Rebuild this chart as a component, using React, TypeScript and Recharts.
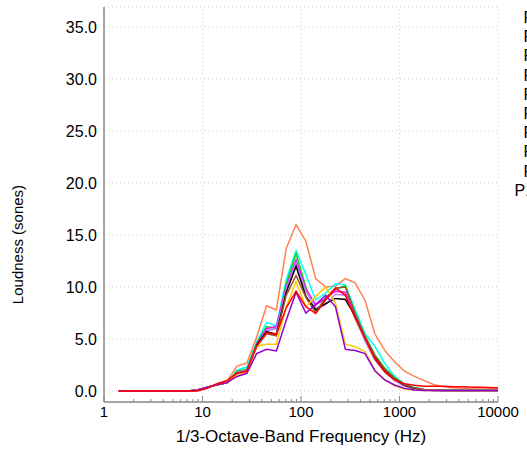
import React from "react";
import {
  LineChart,
  Line,
  XAxis,
  YAxis,
  CartesianGrid,
  ReferenceLine,
  Legend,
} from "recharts";

// 1/3-octave band (lower edge) frequencies, Hz
const freqs = [
  1.41, 1.78, 2.24, 2.82, 3.55, 4.47, 5.62, 7.08, 8.91, 11.2, 14.1, 17.8, 22.4,
  28.2, 35.5, 44.7, 56.2, 70.8, 89.1, 112, 141, 178, 224, 282, 355, 447, 562,
  708, 891, 1122, 1413, 1778, 2239, 2818, 3548, 4467, 5623, 7079, 8913, 11220,
];

const p1 = [
  0, 0, 0, 0, 0, 0, 0, 0, 0.1, 0.35, 0.7, 1.0, 2.4, 2.7, 5.2, 8.2, 7.8, 13.7,
  16.0, 14.4, 10.8, 10.0, 10.1, 10.8, 10.4, 8.7, 5.5, 3.9, 2.8, 1.9, 1.4, 1.0,
  0.6, 0.4, 0.3, 0.25, 0.2, 0.2, 0.2, 0.2,
];
const p2 = [
  0, 0, 0, 0, 0, 0, 0, 0, 0.1, 0.35, 0.65, 0.8, 2.0, 2.3, 4.7, 6.6, 6.25, 10.7,
  13.5, 11.2, 8.75, 9.4, 10.3, 10.2, 7.8, 5.5, 4.3, 2.65, 1.4, 0.67, 0.35, 0.15,
  0.1, 0.1, 0.1, 0.1, 0.1, 0.1, 0.1, 0.1,
];
const p3 = [
  0, 0, 0, 0, 0, 0, 0, 0, 0.1, 0.35, 0.6, 0.8, 1.9, 2.1, 4.6, 6.2, 6.0, 10.3,
  13.2, 10.0, 7.6, 9.0, 9.8, 10.1, 7.5, 5.3, 3.5, 2.2, 1.3, 0.65, 0.3, 0.15,
  0.1, 0.05, 0.05, 0.05, 0.05, 0.05, 0.05, 0.05,
];
const p4 = [
  0, 0, 0, 0, 0, 0, 0, 0, 0.1, 0.35, 0.6, 0.8, 1.8, 2.0, 4.5, 6.0, 6.2, 10.0,
  12.6, 9.8, 8.3, 8.9, 9.6, 9.5, 7.3, 5.1, 3.3, 2.0, 1.15, 0.55, 0.25, 0.12,
  0.1, 0.05, 0.05, 0.05, 0.05, 0.05, 0.05, 0.05,
];
const p5 = [
  0, 0, 0, 0, 0, 0, 0, 0, 0.1, 0.35, 0.6, 0.8, 1.8, 2.0, 4.4, 5.8, 6.0, 9.8,
  12.3, 9.6, 8.0, 8.3, 9.3, 9.2, 7.0, 4.8, 3.0, 1.8, 1.0, 0.45, 0.2, 0.1, 0.05,
  0.05, 0.05, 0.05, 0.05, 0.05, 0.05, 0.05,
];
const p6 = [
  0, 0, 0, 0, 0, 0, 0, 0, 0.1, 0.35, 0.6, 0.8, 1.7, 1.9, 4.4, 5.7, 5.45, 9.5,
  12.0, 9.1, 7.8, 8.4, 8.9, 8.8, 7.2, 5.1, 3.3, 2.0, 1.15, 0.55, 0.25, 0.1,
  0.05, 0.05, 0.05, 0.05, 0.05, 0.05, 0.05, 0.05,
];
const p7 = [
  0, 0, 0, 0, 0, 0, 0, 0, 0.1, 0.35, 0.6, 0.8, 1.7, 1.9, 4.3, 5.5, 5.3, 9.2,
  11.1, 9.0, 7.5, 8.9, 9.9, 10.0, 7.4, 5.2, 3.4, 2.1, 1.2, 0.6, 0.3, 0.15, 0.1,
  0.05, 0.05, 0.05, 0.05, 0.05, 0.05, 0.05,
];
const p8 = [
  0, 0, 0, 0, 0, 0, 0, 0, 0.1, 0.35, 0.6, 0.8, 1.6, 1.8, 4.3, 4.5, 4.5, 8.1,
  10.5, 8.1, 9.1, 10.0, 8.4, 4.5, 4.26, 3.8, 2.0, 1.1, 0.5, 0.2, 0.1, 0.05,
  0.05, 0.05, 0.05, 0.05, 0.05, 0.05, 0.05, 0.05,
];
const p9 = [
  0, 0, 0, 0, 0, 0, 0, 0, 0.1, 0.35, 0.6, 0.8, 1.4, 1.7, 3.6, 4.0, 3.85, 6.8,
  9.5, 7.5, 8.3, 9.2, 8.1, 4.0, 3.9, 3.6, 1.95, 1.06, 0.58, 0.25, 0.1, 0.05,
  0.05, 0.05, 0.05, 0.05, 0.05, 0.05, 0.05, 0.05,
];
const p10 = [
  0, 0, 0, 0, 0, 0, 0, 0, 0.0, 0.25, 0.7, 1.0, 1.7, 1.9, 4.3, 5.6, 5.45, 8.0,
  9.6, 8.1, 7.45, 8.75, 9.9, 9.2, 7.0, 5.07, 3.1, 1.86, 1.06, 0.7, 0.55, 0.45,
  0.45, 0.45, 0.4, 0.4, 0.35, 0.35, 0.3, 0.3,
];

const seriesNames = ["P1", "P2", "P3", "P4", "P5", "P6", "P7", "P8", "P9", "P10"];
const seriesValues = [p1, p2, p3, p4, p5, p6, p7, p8, p9, p10];
const seriesColors = [
  "#ff7f50",
  "#00ffff",
  "#00dd00",
  "#ff00ff",
  "#c080ff",
  "#000000",
  "#a0522d",
  "#ffc800",
  "#9400d3",
  "#ff0000",
];

const yTicks = [0, 5, 10, 15, 20, 25, 30, 35];
const xMajorTicks = [1, 10, 100, 1000, 10000];

const xTicks: number[] = [];
xMajorTicks.forEach((m, i) => {
  xTicks.push(m);
  if (i < xMajorTicks.length - 1) {
    for (let k = 2; k <= 9; k++) xTicks.push(m * k);
  }
});

const data = freqs.map((f, i) => {
  const row: Record<string, number> = { f };
  seriesNames.forEach((name, s) => {
    row[name] = seriesValues[s][i];
  });
  return row;
});

const FONT = "'Liberation Sans', Arial, sans-serif";
const AXIS = "#888888";
const GRID = "#cccccc";

function XTick(props: any) {
  const { x, y, payload } = props;
  const v = payload.value as number;
  const isMajor = xMajorTicks.includes(v);
  return (
    <g>
      <line x1={x} x2={x} y1={y} y2={y - (isMajor ? 6 : 3)} stroke={AXIS} strokeWidth={1} />
      {isMajor && (
        <text x={x} y={y + 15} textAnchor="middle" fontSize={15} fill="#000" fontFamily={FONT}>
          {v}
        </text>
      )}
    </g>
  );
}

function YLabel(props: any) {
  const vb = props.viewBox || { x: 0, y: 0, height: 0 };
  const cx = vb.x + 17.5;
  const cy = vb.y + vb.height / 2 + 40;
  return (
    <text
      x={cx}
      y={cy}
      transform={`rotate(-90 ${cx} ${cy})`}
      textAnchor="middle"
      dominantBaseline="central"
      fontSize={15}
      fill="#000"
      fontFamily={FONT}
    >
      Loudness (sones)
    </text>
  );
}

function LegendBox() {
  return (
    <div style={{ textAlign: "right", fontFamily: FONT, fontSize: 16, lineHeight: "19.2px", color: "#000" }}>
      {seriesNames.map((n) => (
        <div key={n}>{n}</div>
      ))}
    </div>
  );
}

export default function App() {
  return (
    <div style={{ position: "absolute", left: 0, top: 0, width: 527, height: 452, overflow: "hidden", background: "#fff" }}>
      <LineChart
        width={527}
        height={452}
        data={data}
        margin={{ top: 7, right: 29, bottom: 0, left: 0 }}
        style={{ fontFamily: FONT }}
      >
        <CartesianGrid vertical={false} stroke={GRID} strokeDasharray="1 3" />
        {xMajorTicks.slice(1).map((t) => (
          <ReferenceLine key={t} x={t} stroke={GRID} strokeDasharray="1 3" />
        ))}
        <XAxis
          dataKey="f"
          type="number"
          scale="log"
          domain={[1, 10000]}
          allowDataOverflow
          ticks={xTicks}
          interval={0}
          height={50}
          tickSize={0}
          tickMargin={0}
          tick={<XTick />}
          axisLine={{ stroke: AXIS, strokeWidth: 1.5 }}
          tickLine={false}
          label={{
            value: "1/3-Octave-Band Frequency (Hz)",
            position: "insideBottom",
            offset: 10,
            fontSize: 17,
            fill: "#000",
            fontFamily: FONT,
          }}
        />
        <YAxis
          type="number"
          domain={[-1.06, 36.92]}
          allowDataOverflow
          ticks={yTicks}
          width={104}
          tickSize={0}
          tickMargin={7}
          tickLine={false}
          tickFormatter={(v: number) => v.toFixed(1)}
          tick={{ fontSize: 16, fill: "#000", fontFamily: FONT }}
          axisLine={{ stroke: AXIS, strokeWidth: 1.5 }}
          label={<YLabel />}
        />
        <Legend
          layout="vertical"
          align="center"
          verticalAlign="middle"
          content={<LegendBox />}
          wrapperStyle={{ left: 482, top: 8, width: 61, height: 200 }}
        />
        {seriesNames.map((name, s) => (
          <Line
            key={name}
            type="linear"
            dataKey={name}
            name={name}
            stroke={seriesColors[s]}
            strokeWidth={1.5}
            dot={false}
            isAnimationActive={false}
          />
        ))}
      </LineChart>
    </div>
  );
}
